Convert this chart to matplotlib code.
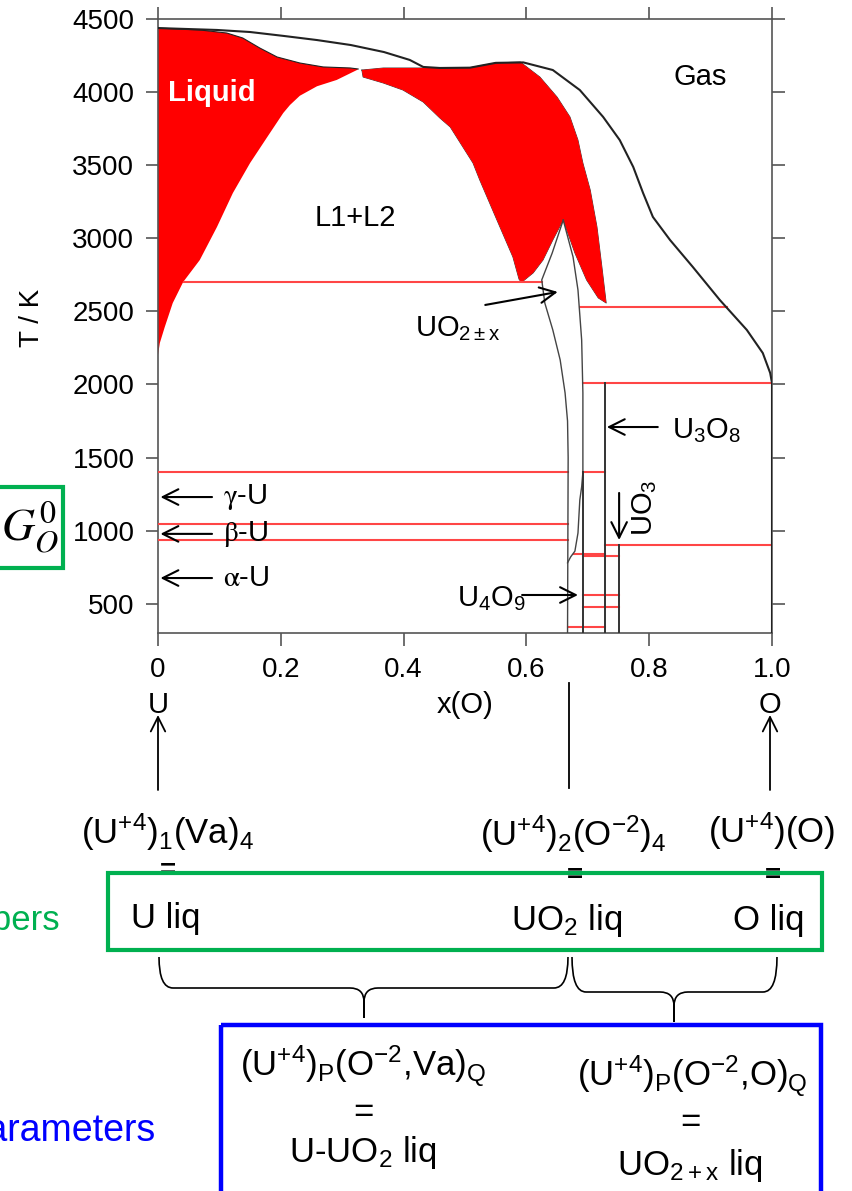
import matplotlib
matplotlib.use("Agg")
import matplotlib.pyplot as plt
from matplotlib.patches import Rectangle, PathPatch
from matplotlib.path import Path

plt.rcParams['font.family'] = ['Liberation Sans', 'DejaVu Sans']
plt.rcParams['mathtext.fontset'] = 'custom'
plt.rcParams['mathtext.rm'] = 'Liberation Sans'
plt.rcParams['mathtext.it'] = 'Liberation Sans:italic'
plt.rcParams['mathtext.bf'] = 'Liberation Sans:bold'

RED = '#ff0000'
ISO = '#ff4646'
GREEN = '#00b050'
BLUE = '#0000ff'
AXC = '#555555'

# ---- U-O phase diagram: x(O), T/K ----
# gas / (liquid + gas) boundary
gas_x = [0.0, 0.096, 0.150, 0.205, 0.259, 0.314, 0.368, 0.410, 0.432, 0.459, 0.508,
         0.55, 0.595, 0.643, 0.687, 0.725, 0.752, 0.774, 0.790, 0.806, 0.834, 0.871,
         0.915, 0.959, 0.985, 0.997, 1.0, 1.0]
gas_T = [4438, 4425, 4411, 4384, 4356, 4322, 4274, 4220, 4172, 4165, 4167,
         4200, 4203, 4151, 4014, 3830, 3672, 3488, 3310, 3146, 2988, 2804,
         2578, 2373, 2215, 2079, 2010, 300]

# U-rich liquid (L1): upper edge, then miscibility-gap edge down to x=0
liq1_top_x = [0.0, 0.068, 0.112, 0.138, 0.166, 0.194, 0.231, 0.269, 0.313, 0.326]
liq1_top_T = [4438, 4425, 4404, 4370, 4301, 4240, 4199, 4172, 4165, 4158]
liq1_gap_x = [0.324, 0.291, 0.259, 0.231, 0.215, 0.204, 0.178, 0.150, 0.122, 0.096,
              0.068, 0.041, 0.024, 0.011, 0.003, 0.0]
liq1_gap_T = [4151, 4083, 4040, 3975, 3912, 3857, 3693, 3515, 3310, 3077,
              2851, 2701, 2557, 2393, 2284, 2202]

# O-rich liquid (L2) outline, clockwise from the critical point
liq2_x = [0.332, 0.367, 0.432, 0.508, 0.55, 0.59, 0.622, 0.650, 0.671, 0.684, 0.692,
          0.704, 0.715, 0.723, 0.730, 0.717, 0.698, 0.679, 0.660, 0.643, 0.627,
          0.611, 0.592, 0.588, 0.578, 0.552, 0.524, 0.513, 0.476, 0.459, 0.432,
          0.399, 0.367, 0.334, 0.332]
liq2_T = [4151, 4165, 4165, 4167, 4200, 4206, 4103, 3966, 3830, 3672, 3515,
          3330, 3077, 2804, 2557, 2592, 2715, 2899, 3125, 2988, 2851,
          2763, 2698, 2720, 2872, 3125, 3399, 3515, 3761, 3823, 3932,
          4014, 4062, 4103, 4151]

# UO2+-x single phase boundaries
uo2_left_x = [0.660, 0.642, 0.625, 0.630, 0.643, 0.655, 0.663, 0.667, 0.668, 0.667]
uo2_left_T = [3125, 2899, 2715, 2557, 2373, 2168, 1942, 1750, 1500, 300]
uo2_right_x = [0.660, 0.676, 0.684, 0.690, 0.692, 0.692, 0.690,
               0.687, 0.684, 0.679, 0.672, 0.667]
uo2_right_T = [3125, 2872, 2646, 2304, 1942, 1400, 1300,
               1210, 984, 860, 820, 780]

# stoichiometric compounds: composition, top temperature
comp_x = [0.692, 0.728, 0.751]
comp_T = [1400, 2010, 905]

# invariant (red) lines: temperature, from x, to x
iso_T = [2700, 2530, 2010, 1400, 1400, 1045, 936, 903, 843, 824, 560, 476, 340]
iso_x0 = [0.042, 0.687, 0.692, 0.0, 0.692, 0.0, 0.0, 0.728, 0.677, 0.692, 0.692, 0.692, 0.667]
iso_x1 = [0.625, 0.927, 1.0, 0.667, 0.728, 0.667, 0.667, 1.0, 0.728, 0.751, 0.751, 0.751, 0.728]

x_ticks = [0, 0.2, 0.4, 0.6, 0.8, 1.0]
x_ticklabels = ['0', '0.2', '0.4', '0.6', '0.8', '1.0']
y_ticks = [500, 1000, 1500, 2000, 2500, 3000, 3500, 4000, 4500]

fig = plt.figure(figsize=(8.52, 11.91), dpi=100)

# page layer in pixel units for the scheme under the diagram
page = fig.add_axes([0, 0, 1, 1])
page.set_xlim(0, 852)
page.set_ylim(1191, 0)
page.axis('off')

ax = fig.add_axes([158 / 852, 1 - 633 / 1191, 614 / 852, 614 / 1191])
ax.set_facecolor('none')
ax.set_xlim(0, 1)
ax.set_ylim(300, 4500)

# liquid regions
ax.fill(liq1_top_x + liq1_gap_x, liq1_top_T + liq1_gap_T, color=RED, lw=0, zorder=2)
ax.fill(liq2_x, liq2_T, color=RED, lw=0, zorder=2)
ax.plot(liq1_top_x, liq1_top_T, color='#222222', lw=0.8, zorder=3)
ax.plot(liq2_x, liq2_T, color='#333333', lw=0.6, zorder=1)

ax.plot(gas_x, gas_T, color='#222222', lw=1.5, zorder=4)
ax.plot(uo2_left_x, uo2_left_T, color='#444444', lw=1.0, zorder=4)
ax.plot(uo2_right_x, uo2_right_T, color='#444444', lw=1.0, zorder=4)
for cx, ct in zip(comp_x, comp_T):
    ax.plot([cx, cx], [300, ct], color='#333333', lw=1.4, zorder=4)

for t, a, b in zip(iso_T, iso_x0, iso_x1):
    ax.plot([a, b], [t, t], color=ISO, lw=1.5, zorder=3)

# axes style
for s in ax.spines.values():
    s.set_color(AXC)
    s.set_linewidth(1.2)
ax.set_xticks(x_ticks)
ax.set_xticklabels(x_ticklabels)
ax.set_yticks(y_ticks)
ax.tick_params(axis='both', direction='out', length=9, width=1.2, color=AXC,
               labelsize=20, top=True, right=True)
ax.tick_params(axis='y', pad=8)
ax.tick_params(axis='x', pad=8)

# region labels
ax.text(0.088, 3994, 'Liquid', color='white', fontsize=21, fontweight='bold',
        ha='center', va='center', zorder=5)
ax.text(0.321, 3139, 'L1+L2', fontsize=21, ha='center', va='center')
ax.text(0.883, 4103, 'Gas', fontsize=21, ha='center', va='center')

arrow = dict(arrowstyle='->', lw=1.5, color='black', mutation_scale=28,
             shrinkA=0, shrinkB=0)

ax.annotate('', xy=(0.651, 2633), xytext=(0.533, 2544), arrowprops=arrow, zorder=6)
ax.text(0.557, 2330, r'UO$_{\mathrm{2\pm x}}$', fontsize=21, ha='right', va='baseline')

ax.annotate('', xy=(0.731, 1709), xytext=(0.814, 1709), arrowprops=arrow, zorder=6)
ax.text(0.837, 1634, r'U$_3$O$_8$', fontsize=21, ha='left', va='baseline')

ax.annotate('', xy=(0.751, 936), xytext=(0.751, 1258), arrowprops=arrow, zorder=6)
ax.text(0.793, 1160, r'UO$_3$', fontsize=21, rotation=90, ha='center', va='center')

ax.annotate('', xy=(0.684, 560), xytext=(0.593, 560), arrowprops=arrow, zorder=6)
ax.text(0.599, 485, r'U$_4$O$_9$', fontsize=21, ha='right', va='baseline')

for lab, t in zip([r'$\mathrm{\gamma}$-U', r'$\mathrm{\beta}$-U', r'$\mathrm{\alpha}$-U'],
                  [1230, 978, 676]):
    ax.annotate('', xy=(0.004, t), xytext=(0.088, t), arrowprops=arrow, zorder=6)
    ax.text(0.106, t, lab, fontsize=21, ha='left', va='center', math_fontfamily='stix')

fig.text(32 / 852, 1 - 318 / 1191, 'T / K', rotation=90, fontsize=20,
         ha='center', va='center')

# ---- scheme below the diagram (pixel units) ----
page.text(158, 713, 'U', fontsize=21, ha='center', va='baseline')
page.text(465, 713, 'x(O)', fontsize=21, ha='center', va='baseline')
page.text(770, 713, 'O', fontsize=21, ha='center', va='baseline')

parrow = dict(arrowstyle='->', lw=1.3, color='black', mutation_scale=26,
              shrinkA=0, shrinkB=0)
page.annotate('', xy=(158, 715), xytext=(158, 790), arrowprops=parrow)
page.annotate('', xy=(770, 715), xytext=(770, 790), arrowprops=parrow)
page.plot([569, 569], [683, 788], color='black', lw=1.3)

fs = 25
page.text(167, 844, r'(U$^{+4}$)$_1$(Va)$_4$', fontsize=fs, ha='center', va='baseline')
page.text(573, 846, r'(U$^{+4}$)$_2$(O$^{-2}$)$_4$', fontsize=fs, ha='center', va='baseline')
page.text(772, 843, r'(U$^{+4}$)(O)', fontsize=fs, ha='center', va='baseline')
for ex, ey in [(168, 871), (575, 876), (773, 876)]:
    page.text(ex, ey, '=', fontsize=20, fontweight='bold', ha='center', va='center', zorder=1)

page.add_patch(Rectangle((108, 873), 714, 77, fill=False, edgecolor=GREEN, lw=3, zorder=3))
page.text(131, 928, 'U liq', fontsize=fs, ha='left', va='baseline')
page.text(511, 930, r'UO$_2$ liq', fontsize=fs, ha='left', va='baseline')
page.text(733, 930, 'O liq', fontsize=fs, ha='left', va='baseline')
page.text(60, 930, 'Endmembers', fontsize=fs, color=GREEN, ha='right', va='baseline')

page.add_patch(Rectangle((-10, 487), 73, 81, fill=False, edgecolor=GREEN, lw=3, zorder=3))
page.text(30, 528, r'$G_O^0$', fontsize=33, ha='center', va='center', math_fontfamily='stix')


def brace(xl, xr, xm, yt, yb, ytip, r=14):
    verts = [(xl, yt), (xl, yb), (xl + r, yb), (xm - r, yb), (xm, yb), (xm, yb + r),
             (xm, ytip), (xm, yb + r), (xm, yb), (xm + r, yb), (xr - r, yb), (xr, yb),
             (xr, yt)]
    codes = [Path.MOVETO, Path.CURVE3, Path.CURVE3, Path.LINETO, Path.CURVE3, Path.CURVE3,
             Path.LINETO, Path.LINETO, Path.CURVE3, Path.CURVE3, Path.LINETO, Path.CURVE3,
             Path.CURVE3]
    page.add_patch(PathPatch(Path(verts, codes), fill=False, edgecolor='black', lw=1.2))


brace(159, 568, 364, 957, 988, 1018)
brace(572, 777, 674, 957, 992, 1022)

page.add_patch(Rectangle((221, 1025), 600, 200, fill=False, edgecolor=BLUE, lw=3.2, zorder=3))
page.text(155, 1141, 'Interaction parameters', fontsize=27, color=BLUE, ha='right', va='baseline')

page.text(363, 1076, r'(U$^{+4}$)$_\mathrm{P}$(O$^{-2}$,Va)$_\mathrm{Q}$', fontsize=fs,
          ha='center', va='baseline')
page.text(363, 1112, '=', fontsize=fs, ha='center', va='center')
page.text(363, 1162, r'U-UO$_2$ liq', fontsize=fs, ha='center', va='baseline')

page.text(692, 1086, r'(U$^{+4}$)$_\mathrm{P}$(O$^{-2}$,O)$_\mathrm{Q}$', fontsize=fs,
          ha='center', va='baseline')
page.text(690, 1122, '=', fontsize=fs, ha='center', va='center')
page.text(690, 1175, r'UO$_{\mathrm{2+x}}$ liq', fontsize=fs, ha='center', va='baseline')

fig.savefig('out.png', dpi=100)
